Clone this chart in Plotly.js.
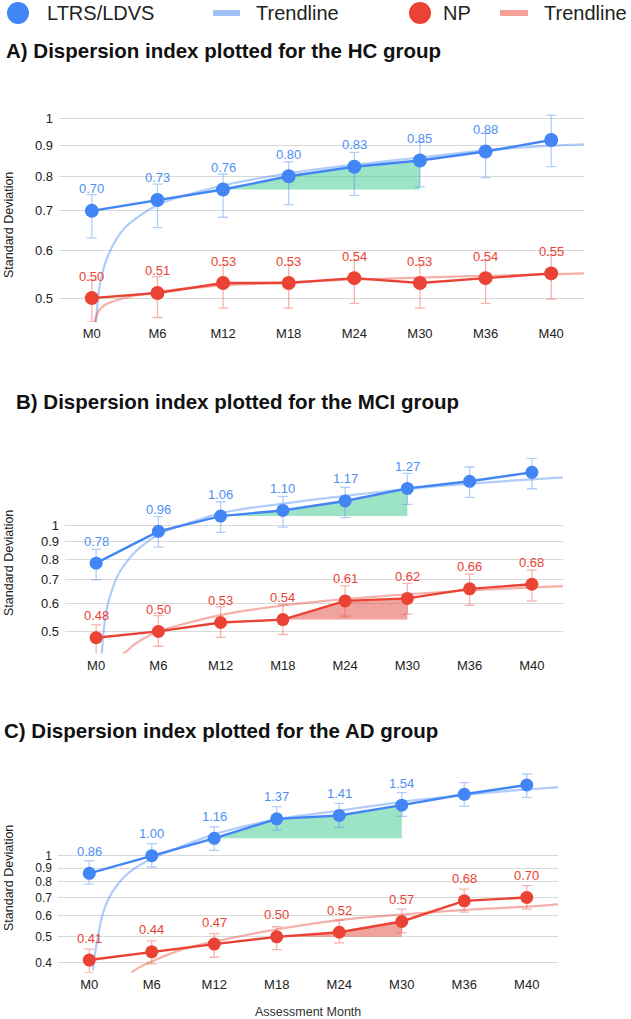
<!DOCTYPE html>
<html><head><meta charset="utf-8">
<script src="https://cdn.plot.ly/plotly-3.0.1.min.js"></script>
<style>html,body{margin:0;padding:0;background:#fff}#chart{width:631px;height:1019px}</style>
</head><body><div id="chart"></div>
<script>
// ---------- data ----------
const months = ['M0','M6','M12','M18','M24','M30','M36','M40'];

// Panel A (HC)
const aBlue      = [0.70,0.73,0.76,0.80,0.83,0.85,0.88,0.92];
const aBlueUp    = [0.045,0.046,0.047,0.046,0.047,0.064,0.064,0.093];
const aBlueDown  = [0.069,0.074,0.077,0.083,0.087,0.082,0.084,0.090];
const aRed       = [0.50,0.51,0.53,0.53,0.54,0.53,0.54,0.55];
const aRedUp     = [0.036,0.033,0.038,0.038,0.039,0.038,0.039,0.040];
const aRedDown   = [0.044,0.046,0.049,0.049,0.050,0.049,0.050,0.052];
const aBlueTrendX = [0.065,0.12,0.25,0.5,1,2,3,4,5,6,7,7.5];
const aBlueTrendY = [0.456,0.525,0.59,0.655,0.716,0.772,0.809,0.836,0.86,0.884,0.90,0.905];
const aRedTrendX  = [0.04,0.1,0.2,0.4,1,2,3,4,5,6,7,7.5];
const aRedTrendY  = [0.456,0.475,0.487,0.497,0.512,0.525,0.532,0.537,0.541,0.545,0.548,0.55];

// Panel B (MCI)
const bBlue      = [0.78,0.96,1.06,1.10,1.17,1.27,1.33,1.41];
const bBlueUp    = [0.073,0.096,0.104,0.106,0.109,0.130,0.130,0.135];
const bBlueDown  = [0.080,0.094,0.107,0.113,0.121,0.126,0.132,0.143];
const bRed       = [0.48,0.50,0.53,0.54,0.61,0.62,0.66,0.68];
const bRedUp     = [0.042,0.054,0.057,0.056,0.063,0.064,0.066,0.066];
const bRedDown   = [0.052,0.046,0.049,0.050,0.058,0.060,0.067,0.070];
const bBlueTrendX = [0.09,0.12,0.17,0.25,0.33,0.45,0.6,0.8,1,2,3,4,5,6,7,7.5];
const bBlueTrendY = [0.43,0.50,0.58,0.65,0.71,0.77,0.83,0.89,0.94,1.08,1.15,1.21,1.265,1.31,1.347,1.365];
const bRedTrendX  = [0.42,0.5,0.6,0.75,1,2,3,4,5,6,7,7.5];
const bRedTrendY  = [0.43,0.441,0.457,0.476,0.50,0.556,0.592,0.617,0.637,0.653,0.666,0.672];

// Panel C (AD)
const cBlue      = [0.86,1.00,1.16,1.37,1.41,1.54,1.69,1.83];
const cBlueUp    = [0.098,0.108,0.118,0.150,0.155,0.173,0.176,0.180];
const cBlueDown  = [0.075,0.092,0.113,0.125,0.136,0.140,0.165,0.184];
const cRed       = [0.41,0.44,0.47,0.50,0.52,0.57,0.68,0.70];
const cRedUp     = [0.040,0.043,0.044,0.045,0.057,0.063,0.072,0.074];
const cRedDown   = [0.042,0.043,0.050,0.052,0.045,0.052,0.063,0.067];
const cBlueTrendX = [0.06,0.09,0.138,0.2,0.3,0.45,0.62,0.8,1,2,3,4,5,6,7,7.5];
const cBlueTrendY = [0.375,0.43,0.50,0.59,0.685,0.78,0.86,0.92,0.975,1.20,1.364,1.469,1.585,1.68,1.763,1.794];
const cRedTrendX  = [0.67,0.8,1,1.5,2,3,4,5,6,7,7.5];
const cRedTrendY  = [0.368,0.385,0.405,0.45,0.48,0.533,0.577,0.605,0.629,0.647,0.66];

// labelled points per series, highlighted ranges [start,end] (index)
const blueLabelCount = [7,6,6];
const redLabelCount  = [8,8,8];
const blueHighlight  = [[2,5],[2,5],[2,5]];
const redHighlight   = [null,[3,5],[3,5]];

const titles = ['A) Dispersion index plotted for the HC group',
                'B) Dispersion index plotted for the MCI group',
                'C) Dispersion index plotted for the AD group'];
const yTicksAB = [0.5,0.6,0.7,0.8,0.9,1];
const yTicksC  = [0.4,0.5,0.6,0.7,0.8,0.9,1];
const legendNames = ['LTRS/LDVS','Trendline','NP','Trendline'];

// ---------- styling / layout geometry ----------
const W = 631, H = 1019;
const BLUE = '#4285F4', RED = '#EA4335';
const BLUE_L = 'rgba(66,133,244,0.42)', RED_L = 'rgba(234,67,53,0.42)';
const BLUE_ERR = 'rgba(66,133,244,0.40)', RED_ERR = 'rgba(234,67,53,0.40)';
const GREEN_FILL = 'rgba(60,200,140,0.50)', RED_FILL = 'rgba(225,70,60,0.50)';
const FONT = 'Liberation Sans, Arial, sans-serif';

const panels = [
  {blue:aBlue,bu:aBlueUp,bd:aBlueDown,red:aRed,ru:aRedUp,rd:aRedDown,
   btx:aBlueTrendX,bty:aBlueTrendY,rtx:aRedTrendX,rty:aRedTrendY,
   ticks:yTicksAB, px:[59,584], py:[322,105], yr:[0.456,1.053], ms:14, tf:13,
   titleX:4, titleY:50, yTitleY:225, xLabel:false},
  {blue:bBlue,bu:bBlueUp,bd:bBlueDown,red:bRed,ru:bRedUp,rd:bRedDown,
   btx:bBlueTrendX,bty:bBlueTrendY,rtx:bRedTrendX,rty:bRedTrendY,
   ticks:yTicksAB, px:[65,563], py:[653.5,450], yr:[0.433,1.631], ms:13, tf:13,
   titleX:14, titleY:401, yTitleY:563, xLabel:false},
  {blue:cBlue,bu:cBlueUp,bd:cBlueDown,red:cRed,ru:cRedUp,rd:cRedDown,
   btx:cBlueTrendX,bty:cBlueTrendY,rtx:cRedTrendX,rty:cRedTrendY,
   ticks:yTicksC, px:[58,558], py:[972.7,770], yr:[0.368,2.08], ms:13, tf:12,
   titleX:2, titleY:730, yTitleY:878, xLabel:true}
];

const idx = months.map((m,i)=>i);
const traces = [];
const annotations = [];
const shapes = [];
const layout = {
  width:W, height:H, margin:{l:0,r:0,t:0,b:0},
  paper_bgcolor:'#fff', plot_bgcolor:'#fff', showlegend:false,
  font:{family:FONT, color:'#222'}
};

panels.forEach((p,k)=>{
  const xa = k===0 ? 'x' : 'x'+(k+1);
  const ya = k===0 ? 'y' : 'y'+(k+1);
  const xKey = k===0 ? 'xaxis' : 'xaxis'+(k+1);
  const yKey = k===0 ? 'yaxis' : 'yaxis'+(k+1);
  layout[xKey] = {
    domain:[p.px[0]/W, p.px[1]/W], anchor:ya, range:[-0.5,7.5],
    tickvals:idx, ticktext:months, showgrid:false, zeroline:false, showline:false,
    ticks:'', tickfont:{size:13, color:'#222', family:FONT}, ticklabelstandoff:2
  };
  layout[yKey] = {
    domain:[1-p.py[0]/H, 1-p.py[1]/H], anchor:xa, type:'log',
    range:[Math.log10(p.yr[0]), Math.log10(p.yr[1])],
    tickvals:p.ticks, ticktext:p.ticks.map(String),
    showgrid:true, gridcolor:'#d9d9d9', gridwidth:1, zeroline:false, showline:false,
    ticks:'', tickfont:{size:p.tf, color:'#222', family:FONT}, ticklabelstandoff:5
  };

  // highlight fills
  const addFill = (vals, rng, color) => {
    if (!rng) return;
    const xs = [], ys = [];
    for (let i=rng[0]; i<=rng[1]; i++){ xs.push(i); ys.push(vals[i]); }
    xs.push(rng[1], rng[0]); ys.push(vals[rng[0]], vals[rng[0]]);
    traces.push({x:xs, y:ys, xaxis:xa, yaxis:ya, type:'scatter', mode:'lines',
      fill:'toself', fillcolor:color, line:{width:0}, hoverinfo:'skip'});
  };
  addFill(p.blue, blueHighlight[k], GREEN_FILL);
  addFill(p.red, redHighlight[k], RED_FILL);

  // trendlines
  traces.push({x:p.btx, y:p.bty, xaxis:xa, yaxis:ya, type:'scatter', mode:'lines',
    line:{color:BLUE_L, width:2.2, shape:'spline', smoothing:0.8}, hoverinfo:'skip'});
  traces.push({x:p.rtx, y:p.rty, xaxis:xa, yaxis:ya, type:'scatter', mode:'lines',
    line:{color:RED_L, width:2.2, shape:'spline', smoothing:0.8}, hoverinfo:'skip'});

  // error bars (own traces, beneath lines)
  const errTrace = (vals, up, dn, color) => ({
    x:idx, y:vals, xaxis:xa, yaxis:ya, type:'scatter', mode:'markers',
    marker:{size:1, opacity:0},
    error_y:{type:'data', array:up, arrayminus:dn, symmetric:false,
             color:color, thickness:1.3, width:5}, hoverinfo:'skip'});
  traces.push(errTrace(p.blue, p.bu, p.bd, BLUE_ERR));
  traces.push(errTrace(p.red, p.ru, p.rd, RED_ERR));

  // series lines + markers
  traces.push({x:idx, y:p.blue, xaxis:xa, yaxis:ya, type:'scatter', mode:'lines+markers',
    name:legendNames[0], line:{color:BLUE, width:2.4}, marker:{color:BLUE, size:p.ms}});
  traces.push({x:idx, y:p.red, xaxis:xa, yaxis:ya, type:'scatter', mode:'lines+markers',
    name:legendNames[2], line:{color:RED, width:2.4}, marker:{color:RED, size:p.ms}});

  // data labels
  for (let i=0;i<blueLabelCount[k];i++){
    annotations.push({xref:xa, yref:ya, x:i, y:Math.log10(p.blue[i]), yshift:22,
      text:p.blue[i].toFixed(2), showarrow:false,
      font:{size:13, color:'#4f8ff5', family:FONT}});
  }
  for (let i=0;i<redLabelCount[k];i++){
    annotations.push({xref:xa, yref:ya, x:i, y:Math.log10(p.red[i]), yshift:22,
      text:p.red[i].toFixed(2), showarrow:false,
      font:{size:13, color:RED, family:FONT}});
  }

  // panel title
  annotations.push({xref:'paper', yref:'paper', x:p.titleX/W, y:1-p.titleY/H,
    xanchor:'left', yanchor:'middle', showarrow:false, text:'<b>'+titles[k]+'</b>',
    font:{size:20.5, color:'#111', family:FONT}});
  // y axis title
  annotations.push({xref:'paper', yref:'paper', x:9/W, y:1-p.yTitleY/H,
    xanchor:'center', yanchor:'middle', textangle:-90, showarrow:false,
    text:'Standard Deviation', font:{size:12.5, color:'#222', family:FONT}});
  if (p.xLabel){
    annotations.push({xref:'paper', yref:'paper', x:308/W, y:1-1012/H,
      xanchor:'center', yanchor:'middle', showarrow:false,
      text:'Assessment Month', font:{size:12.5, color:'#333', family:FONT}});
  }
});

// legend (manual)
const LY = 13;
const circ = (cx, color) => ({type:'circle', xref:'paper', yref:'paper',
  x0:(cx-11)/W, x1:(cx+11)/W, y0:1-(LY+11)/H, y1:1-(LY-11)/H,
  fillcolor:color, line:{width:0}});
const seg = (x0, x1, color) => ({type:'line', xref:'paper', yref:'paper',
  x0:x0/W, x1:x1/W, y0:1-LY/H, y1:1-LY/H, line:{color:color, width:6}});
shapes.push(circ(18, BLUE), seg(213, 240, 'rgba(66,133,244,0.5)'),
            circ(420, RED), seg(500, 528, 'rgba(234,67,53,0.5)'));
const legX = [45, 254, 441, 542];
legendNames.forEach((t,i)=>annotations.push({xref:'paper', yref:'paper',
  x:legX[i]/W, y:1-LY/H, xanchor:'left', yanchor:'middle', showarrow:false,
  text:t, font:{size:20, color:'#222', family:FONT}}));

layout.annotations = annotations;
layout.shapes = shapes;
Plotly.newPlot('chart', traces, layout, {displayModeBar:false, staticPlot:true});
</script></body></html>
